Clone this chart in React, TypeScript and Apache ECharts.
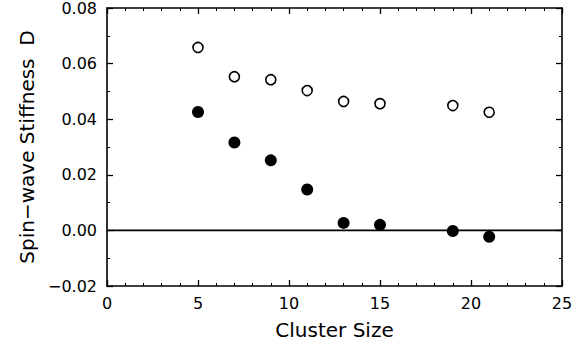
import React, { useEffect, useRef } from "react";
import * as echarts from "echarts";

const clusterSizes = [5, 7, 9, 11, 13, 15, 19, 21];
const openValues = [0.0658, 0.0553, 0.0542, 0.0503, 0.0464, 0.0456, 0.0449, 0.0425];
const filledValues = [0.0426, 0.0316, 0.0252, 0.0147, 0.0027, 0.002, -0.0002, -0.0023];
const zeroLine = [[0, 0], [25, 0]];

const FONT = "DejaVu Sans";

export default function App() {
  const ref = useRef<HTMLDivElement>(null);
  useEffect(() => {
    const chart = echarts.init(ref.current!, null, { renderer: "svg" });
    const axisLine = { show: true, onZero: false, lineStyle: { color: "#000", width: 1.6 } };
    const tick = { show: true, inside: true, length: 6, lineStyle: { color: "#000", width: 1.3 } };
    const minor = (n: number) => ({ show: true, splitNumber: n, length: 3, lineStyle: { color: "#000", width: 1 } });
    const fmtY = (v: number) => (v < 0 ? "\u2212" : "") + Math.abs(v).toFixed(2);
    chart.setOption({
      animation: false,
      backgroundColor: "#fff",
      grid: { left: 107, right: 25, top: 8, bottom: 59 },
      xAxis: [
        {
          type: "value", min: 0, max: 25, interval: 5, position: "bottom",
          axisLine, axisTick: tick, minorTick: minor(5), splitLine: { show: false },
          axisLabel: { color: "#000", fontFamily: FONT, fontSize: 16, margin: 9 },
          name: "Cluster Size", nameLocation: "middle", nameGap: 34,
          nameTextStyle: { color: "#000", fontFamily: FONT, fontSize: 20 },
        },
        {
          type: "value", min: 0, max: 25, interval: 5, position: "top",
          axisLine, axisTick: tick, minorTick: minor(5), splitLine: { show: false },
          axisLabel: { show: false },
        },
      ],
      yAxis: [
        {
          type: "value", min: -0.02, max: 0.08, interval: 0.02, position: "left",
          axisLine, axisTick: tick, minorTick: minor(2), splitLine: { show: false },
          axisLabel: { color: "#000", fontFamily: FONT, fontSize: 16, margin: 10, formatter: fmtY },
          name: "Spin\u2212wave Stiffness  D", nameLocation: "middle", nameGap: 70,
          nameTextStyle: { color: "#000", fontFamily: FONT, fontSize: 20 },
        },
        {
          type: "value", min: -0.02, max: 0.08, interval: 0.02, position: "right",
          axisLine, axisTick: tick, minorTick: minor(2), splitLine: { show: false },
          axisLabel: { show: false },
        },
      ],
      series: [
        {
          type: "line", data: zeroLine, symbol: "none", silent: true,
          lineStyle: { color: "#000", width: 1.6 },
        },
        {
          type: "scatter", data: clusterSizes.map((x, i) => [x, openValues[i]]),
          symbol: "circle", symbolSize: 10,
          itemStyle: { color: "#fff", borderColor: "#000", borderWidth: 1.6, opacity: 1 },
        },
        {
          type: "scatter", data: clusterSizes.map((x, i) => [x, filledValues[i]]),
          symbol: "circle", symbolSize: 12,
          itemStyle: { color: "#000", opacity: 1 },
        },
      ],
    });
    return () => chart.dispose();
  }, []);
  return <div ref={ref} style={{ width: 587, height: 345, position: "absolute", left: 0, top: 0 }} />;
}
